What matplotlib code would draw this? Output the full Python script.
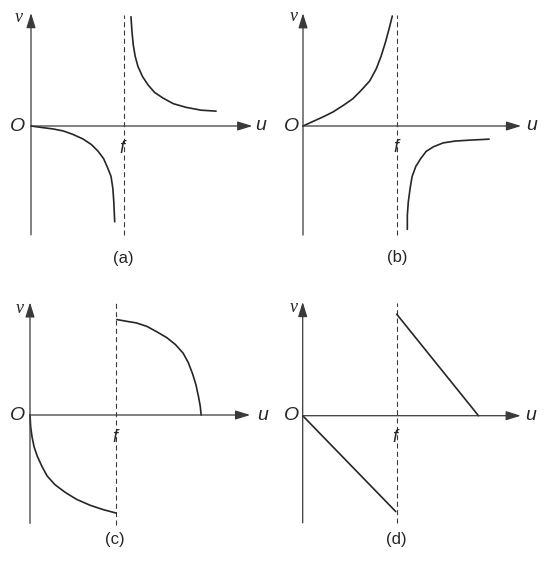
import matplotlib
matplotlib.use("Agg")
import matplotlib.pyplot as plt

W, H = 547, 574
ink = "#262626"
axc = "#3a3a3a"

# u, v in units of f
a_low_u = [0, 0.13, 0.24, 0.35, 0.45, 0.56, 0.65, 0.72, 0.78, 0.82, 0.86, 0.88, 0.89, 0.90]
a_low_v = [0, -0.018, -0.032, -0.054, -0.09, -0.14, -0.20, -0.27, -0.35, -0.44, -0.54, -0.67, -0.81, -1.03]
a_up_u = [1.075, 1.086, 1.10, 1.12, 1.15, 1.20, 1.26, 1.33, 1.42, 1.53, 1.67, 1.83, 1.99]
a_up_v = [1.175, 1.01, 0.87, 0.75, 0.64, 0.53, 0.44, 0.36, 0.30, 0.24, 0.20, 0.17, 0.16]

b_up_u = [0, 0.11, 0.22, 0.32, 0.43, 0.53, 0.62, 0.71, 0.78, 0.83, 0.88, 0.92, 0.95]
b_up_v = [0, 0.05, 0.10, 0.15, 0.22, 0.29, 0.38, 0.48, 0.61, 0.74, 0.90, 1.05, 1.17]
b_low_u = [1.11, 1.11, 1.12, 1.14, 1.16, 1.20, 1.25, 1.31, 1.39, 1.49, 1.62, 1.78, 1.98]
b_low_v = [-1.10, -0.95, -0.81, -0.66, -0.54, -0.43, -0.35, -0.27, -0.22, -0.18, -0.16, -0.15, -0.14]

c_up_u = [1.01, 1.12, 1.24, 1.36, 1.47, 1.59, 1.69, 1.78, 1.84, 1.89, 1.93, 1.96, 1.98, 1.99]
c_up_v = [1.11, 1.09, 1.07, 1.03, 0.97, 0.90, 0.82, 0.72, 0.61, 0.48, 0.35, 0.21, 0.10, 0.0]
c_low_u = [0, 0.008, 0.023, 0.047, 0.085, 0.14, 0.20, 0.29, 0.41, 0.54, 0.70, 0.85, 1.0]
c_low_v = [0, -0.14, -0.25, -0.37, -0.48, -0.60, -0.71, -0.81, -0.90, -0.98, -1.05, -1.10, -1.14]

d_up_u = [1.0, 1.87]
d_up_v = [1.08, 0.0]
d_low_u = [0, 0.99]
d_low_v = [0, -1.02]

panels = [
    # name, origin px, px per f, box px (l, r, t, b), curves, axis extents, label spots
    dict(name="(a)", x0=31, y0=126, s=93, box=(0, 273, 0, 287),
         curves=[(a_low_u, a_low_v), (a_up_u, a_up_v)],
         vtop=1.215, vbot=-1.17, utip=2.38, dtop=1.19, dbot=-1.17,
         lab_v=(-0.13, 1.17), lab_o=(-0.14, -0.01), lab_f=(0.98, -0.24),
         lab_p=(0.99, -1.42), lab_u=(2.47, 0)),
    dict(name="(b)", x0=303, y0=126, s=94, box=(273, 547, 0, 287),
         curves=[(b_up_u, b_up_v), (b_low_u, b_low_v)],
         vtop=1.20, vbot=-1.16, utip=2.32, dtop=1.18, dbot=-1.16,
         lab_v=(-0.10, 1.16), lab_o=(-0.12, -0.01), lab_f=(0.99, -0.23),
         lab_p=(1.0, -1.40), lab_u=(2.43, 0)),
    dict(name="(c)", x0=30, y0=415, s=86, box=(0, 273, 287, 574),
         curves=[(c_up_u, c_up_v), (c_low_u, c_low_v)],
         vtop=1.31, vbot=-1.26, utip=2.56, dtop=1.30, dbot=-1.28,
         lab_v=(-0.12, 1.24), lab_o=(-0.14, 0.0), lab_f=(0.99, -0.26),
         lab_p=(0.99, -1.45), lab_u=(2.70, 0)),
    dict(name="(d)", x0=302.7, y0=415.7, s=94, box=(273, 547, 287, 574),
         curves=[(d_up_u, d_up_v), (d_low_u, d_low_v)],
         vtop=1.21, vbot=-1.14, utip=2.32, dtop=1.20, dbot=-1.14,
         lab_v=(-0.10, 1.15), lab_o=(-0.12, 0.0), lab_f=(0.98, -0.23),
         lab_p=(1.0, -1.32), lab_u=(2.42, 0)),
]

fig = plt.figure(figsize=(W / 100, H / 100), dpi=100)
fig.patch.set_facecolor("white")

for p in panels:
    l, r, t, b = p["box"]
    ax = fig.add_axes([l / W, 1 - b / H, (r - l) / W, (b - t) / H])
    ax.set_xlim((l - p["x0"]) / p["s"], (r - p["x0"]) / p["s"])
    ax.set_ylim((p["y0"] - b) / p["s"], (p["y0"] - t) / p["s"])
    ax.axis("off")

    # axes with arrow heads
    arrow = dict(arrowstyle="-|>,head_length=0.9,head_width=0.28", lw=0.9,
                 color=axc, shrinkA=0, shrinkB=0, mutation_scale=10)
    ax.annotate("", xy=(0, p["vtop"]), xytext=(0, p["vbot"]), arrowprops=arrow)
    ax.annotate("", xy=(p["utip"], 0), xytext=(0, 0), arrowprops=arrow)

    # asymptote at u = f
    ax.plot([1, 1], [p["dbot"], p["dtop"]], color=axc, lw=0.8,
            linestyle=(0, (4.5, 3)))

    for cu, cv in p["curves"]:
        ax.plot(cu, cv, color=ink, lw=1.2, solid_capstyle="round",
                solid_joinstyle="round")

    ax.text(*p["lab_v"], "v", family="Liberation Serif", style="italic",
            fontsize=13, color=ink, ha="center", va="center")
    ax.text(*p["lab_o"], "O", family="Liberation Sans", style="italic",
            fontsize=14, color=ink, ha="center", va="center")
    ax.text(*p["lab_f"], "f", family="Liberation Sans", style="italic",
            fontsize=13, color=ink, ha="center", va="center")
    ax.text(*p["lab_u"], "u", family="Liberation Sans", style="italic",
            fontsize=14, color=ink, ha="center", va="center")
    ax.text(*p["lab_p"], p["name"], family="Liberation Sans",
            fontsize=12, color=ink, ha="center", va="center")

fig.savefig("out.png", dpi=100, facecolor="white")
